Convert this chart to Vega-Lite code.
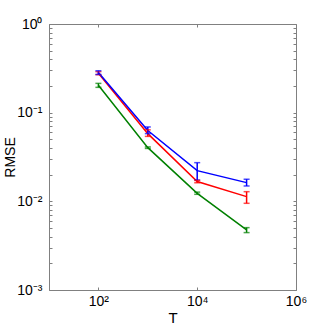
{
  "$schema": "https://vega.github.io/schema/vega-lite/v6.json",
  "width": 247,
  "height": 266,
  "autosize": "none",
  "padding": {"left": 49, "top": 24, "right": 31, "bottom": 37},
  "background": "white",
  "config": {
    "view": {"stroke": null},
    "axis": {"grid": false, "domainColor": "#808080", "tickColor": "#808080", "labelColor": "black", "titleColor": "black", "labelFont": "Liberation Sans", "titleFont": "Liberation Sans", "labelFontSize": 14, "titleFontSize": 15, "titleFontWeight": "normal", "labelOverlap": false, "labelFlush": false, "tickSize": -3}
  },
  "data": {"values": [
    {"series": "s1", "T": 100, "rmse": 0.204, "lo": 0.193, "hi": 0.214},
    {"series": "s1", "T": 1000, "rmse": 0.0403, "lo": 0.0395, "hi": 0.0411},
    {"series": "s1", "T": 10000, "rmse": 0.0123, "lo": 0.0120, "hi": 0.0127},
    {"series": "s1", "T": 100000, "rmse": 0.00476, "lo": 0.00444, "hi": 0.00505},
    {"series": "s2", "T": 100, "rmse": 0.279, "lo": 0.268, "hi": 0.29},
    {"series": "s2", "T": 1000, "rmse": 0.058, "lo": 0.054, "hi": 0.064},
    {"series": "s2", "T": 10000, "rmse": 0.0167, "lo": 0.0162, "hi": 0.0172},
    {"series": "s2", "T": 100000, "rmse": 0.0113, "lo": 0.0095, "hi": 0.01285},
    {"series": "s3", "T": 100, "rmse": 0.283, "lo": 0.270, "hi": 0.297},
    {"series": "s3", "T": 1000, "rmse": 0.063, "lo": 0.058, "hi": 0.069},
    {"series": "s3", "T": 10000, "rmse": 0.0222, "lo": 0.0174, "hi": 0.0273},
    {"series": "s3", "T": 100000, "rmse": 0.01625, "lo": 0.0149, "hi": 0.01775}
  ]},
  "resolve": {"axis": {"x": "independent", "y": "independent"}},
  "layer": [
    {
      "encoding": {
        "x": {"field": "T", "type": "quantitative", "scale": {"type": "log", "domain": [10, 1000000]},
              "axis": {"orient": "bottom", "title": "T", "values": [10, 100, 10000, 1000000], "labelPadding": 7, "titlePadding": 2,
                       "labelExpr": "datum.value == 100 ? '10²' : datum.value == 10000 ? '10⁴' : datum.value == 1000000 ? '10⁶' : ''"}},
        "y": {"field": "rmse", "type": "quantitative", "scale": {"type": "log", "domain": [0.001, 1]},
              "axis": {"orient": "left", "title": "RMSE", "titleFontSize": 14, "labelPadding": 10, "titlePadding": -1,
                       "values": [0.001,0.002,0.003,0.004,0.005,0.006,0.007,0.008,0.009,0.01,0.02,0.03,0.04,0.05,0.06,0.07,0.08,0.09,0.1,0.2,0.3,0.4,0.5,0.6,0.7,0.8,0.9,1],
                       "labelExpr": "datum.value == 1 ? '10⁰' : datum.value == 0.1 ? '10⁻¹' : datum.value == 0.01 ? '10⁻²' : datum.value == 0.001 ? '10⁻³' : ''"}},
        "color": {"field": "series", "type": "nominal", "legend": null,
                  "scale": {"domain": ["s1", "s2", "s3"], "range": ["#008000", "#ff0000", "#0000ff"]}}
      },
      "layer": [
        {"mark": {"type": "line", "strokeWidth": 1.5}},
        {"mark": {"type": "rule", "strokeWidth": 1.5}, "encoding": {"y": {"field": "lo", "type": "quantitative"}, "y2": {"field": "hi"}}},
        {"mark": {"type": "tick", "orient": "horizontal", "size": 6, "thickness": 1.5}, "encoding": {"y": {"field": "lo", "type": "quantitative"}}},
        {"mark": {"type": "tick", "orient": "horizontal", "size": 6, "thickness": 1.5}, "encoding": {"y": {"field": "hi", "type": "quantitative"}}}
      ]
    },
    {
      "mark": {"type": "point", "opacity": 0},
      "encoding": {
        "x": {"field": "T", "type": "quantitative", "axis": {"orient": "top", "title": null, "labels": false, "values": [10, 100, 10000, 1000000]}},
        "y": {"field": "rmse", "type": "quantitative", "axis": {"orient": "right", "title": null, "labels": false,
              "values": [0.001,0.002,0.003,0.004,0.005,0.006,0.007,0.008,0.009,0.01,0.02,0.03,0.04,0.05,0.06,0.07,0.08,0.09,0.1,0.2,0.3,0.4,0.5,0.6,0.7,0.8,0.9,1]}}
      }
    }
  ]
}
